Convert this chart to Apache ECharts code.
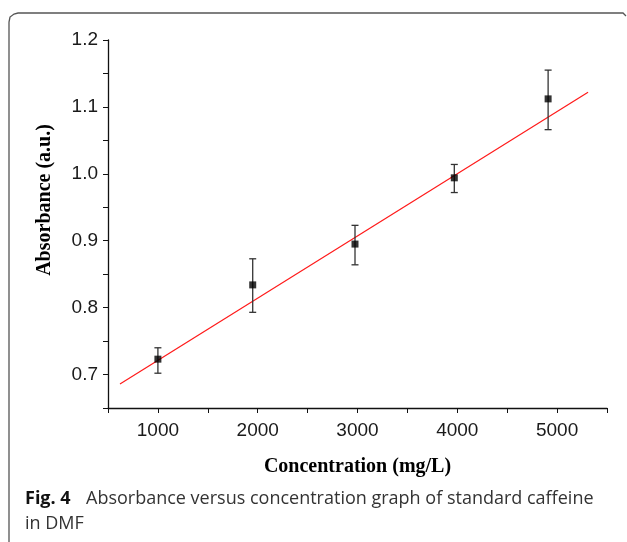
<!DOCTYPE html>
<html>
<head>
<meta charset="utf-8">
<script src="https://cdn.jsdelivr.net/npm/echarts@6/dist/echarts.min.js"></script>
<style>
  html, body { margin: 0; padding: 0; background: #fff; }
  #chart { width: 627px; height: 542px; }
</style>
</head>
<body>
<div id="chart"></div>
<script>
// concentration (mg/L) and absorbance with error bar limits
const concentration = [1000, 1950, 2975, 3970, 4910]
const absorbance = [0.723, 0.834, 0.895, 0.994, 1.112]
const errLow = [0.702, 0.793, 0.864, 0.972, 1.066]
const errHigh = [0.740, 0.873, 0.923, 1.014, 1.155]
// linear fit line ends
const fitX = [620, 5310]
const fitY = [0.686, 1.122]

const points = concentration.map((c, i) => [c, absorbance[i]])
const bars = concentration.map((c, i) => [c, errLow[i], errHigh[i]])
const fitLine = fitX.map((x, i) => [x, fitY[i]])

const ele = document.getElementById('chart')
const myChart = echarts.init(ele, null, { renderer: 'canvas' })

const labelFont = 'Liberation Sans, Arial, sans-serif'
const titleFont = 'Liberation Serif, Times New Roman, serif'
const captionFont = 'Open Sans, Noto Sans, sans-serif'

const option = {
  animation: false,
  backgroundColor: '#fff',
  grid: { left: 108, top: 40, right: 20, bottom: 134, containLabel: false },
  xAxis: {
    type: 'value',
    min: 500,
    max: 5500,
    interval: 500,
    name: 'Concentration (mg/L)',
    nameLocation: 'middle',
    nameGap: 49,
    nameTextStyle: { fontFamily: titleFont, fontWeight: 'bold', fontSize: 20, color: '#000' },
    axisLine: { lineStyle: { color: '#111', width: 1.3 } },
    axisTick: { length: 5, lineStyle: { color: '#111' } },
    axisLabel: {
      fontFamily: labelFont, fontSize: 19, color: '#1a1a1a', margin: 13,
      formatter: v => (v % 1000 === 0 ? String(v) : '')
    },
    splitLine: { show: false }
  },
  yAxis: {
    type: 'value',
    min: 0.65,
    max: 1.2,
    interval: 0.05,
    axisLine: { show: true, lineStyle: { color: '#111', width: 1.3 } },
    axisTick: { show: true, length: 5, lineStyle: { color: '#111' } },
    axisLabel: {
      fontFamily: labelFont, fontSize: 19, color: '#1a1a1a', margin: 10,
      formatter: v => (Math.round(v * 100) % 10 === 0 ? v.toFixed(1) : '')
    },
    splitLine: { show: false }
  },
  graphic: [
    {
      type: 'text',
      x: 45, y: 200, rotation: Math.PI / 2,
      style: {
        text: 'Absorbance (a.u.)',
        font: 'bold 20px ' + titleFont,
        fill: '#000',
        align: 'center',
        verticalAlign: 'middle'
      }
    },
    {
      type: 'polyline',
      shape: { points: [[9, 545], [9, 22], [10, 17], [14, 14], [18, 13], [623, 13], [626, 16]] },
      style: { stroke: '#555', lineWidth: 1.3, fill: null }
    },
    {
      type: 'text',
      x: 25, y: 499,
      style: {
        text: 'Fig. 4',
        font: 'bold 18px ' + captionFont,
        fill: '#111',
        verticalAlign: 'middle'
      }
    },
    {
      type: 'text',
      x: 86, y: 499,
      style: {
        text: 'Absorbance versus concentration graph of standard caffeine',
        font: '18px ' + captionFont,
        fill: '#333',
        verticalAlign: 'middle'
      }
    },
    {
      type: 'text',
      x: 25, y: 524,
      style: {
        text: 'in DMF',
        font: '18px ' + captionFont,
        fill: '#333',
        verticalAlign: 'middle'
      }
    }
  ],
  series: [
    {
      type: 'line',
      data: fitLine,
      symbol: 'none',
      lineStyle: { color: '#ff1a1a', width: 1.2 },
      z: 2
    },
    {
      type: 'custom',
      data: bars,
      renderItem: function (params, api) {
        const x = api.value(0)
        const lo = api.coord([x, api.value(1)])
        const hi = api.coord([x, api.value(2)])
        const w = 3.5
        const st = { stroke: '#333', lineWidth: 1.3 }
        return {
          type: 'group',
          children: [
            { type: 'line', shape: { x1: lo[0], y1: lo[1], x2: hi[0], y2: hi[1] }, style: st },
            { type: 'line', shape: { x1: lo[0] - w, y1: lo[1], x2: lo[0] + w, y2: lo[1] }, style: st },
            { type: 'line', shape: { x1: hi[0] - w, y1: hi[1], x2: hi[0] + w, y2: hi[1] }, style: st }
          ]
        }
      },
      z: 3
    },
    {
      type: 'scatter',
      data: points,
      symbol: 'rect',
      symbolSize: 7,
      itemStyle: { color: '#000' },
      z: 4
    }
  ]
}

myChart.setOption(option)
</script>
</body>
</html>
